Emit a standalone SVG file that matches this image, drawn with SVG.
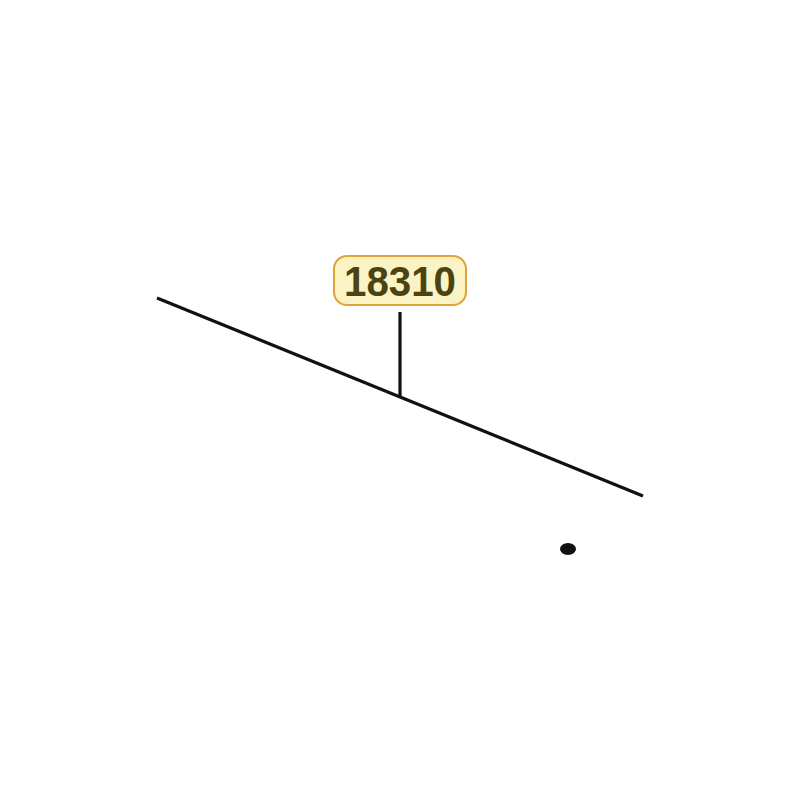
<svg xmlns="http://www.w3.org/2000/svg" width="800" height="800" viewBox="0 0 800 800">
<style>
.ln{stroke:#111;stroke-width:3.2;fill:none;stroke-linecap:butt}
.lbl{fill:#fcf3c4;stroke:#e0a33a;stroke-width:2}
.txt{font-family:"Liberation Sans",Arial,sans-serif;font-weight:bold;font-size:42px;fill:#4a4413}
</style>
<rect width="800" height="800" fill="#fff"/>
<g id="connectors">
<line class="ln" x1="157" y1="298" x2="643" y2="496"/>
<line class="ln" x1="400" y1="312" x2="400" y2="398"/>
</g>
<g id="label-18310">
<rect class="lbl" x="334" y="256" width="132" height="49" rx="13"/>
<text class="txt" x="400" y="295.5" text-anchor="middle" textLength="112" lengthAdjust="spacingAndGlyphs">18310</text>
</g>
<g id="dot">
<ellipse cx="568" cy="549" rx="8" ry="6" fill="#111"/>
</g>
</svg>
